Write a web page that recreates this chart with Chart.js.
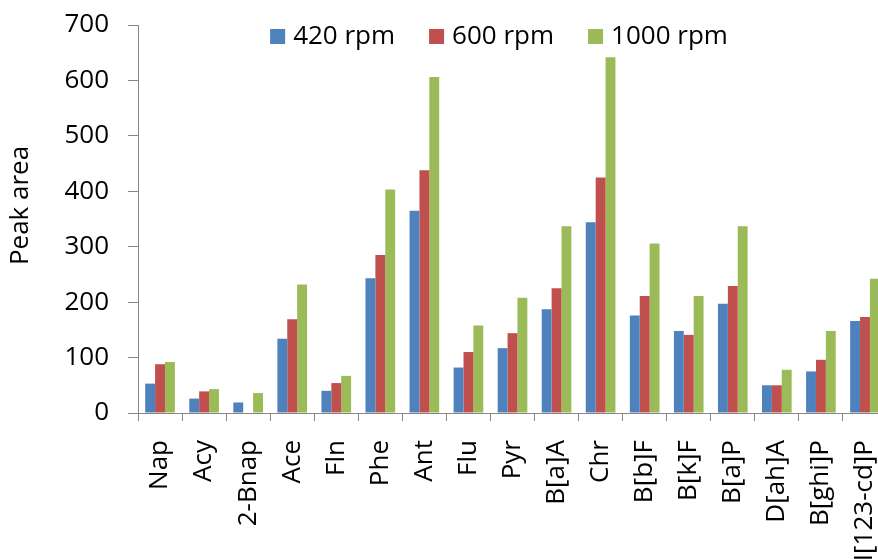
<!DOCTYPE html>
<html>
<head>
<meta charset="utf-8">
<script src="https://cdn.jsdelivr.net/npm/chart.js@4.4.1/dist/chart.umd.min.js"></script>
<style>
  html, body { margin: 0; padding: 0; overflow: hidden; background: #fff; }
  canvas { display: block; }
</style>
</head>
<body>
<canvas id="chart" width="888" height="600"></canvas>
<script>
// PAH compounds on the category axis
const compounds = ['Nap', 'Acy', '2-Bnap', 'Ace', 'Fln', 'Phe', 'Ant', 'Flu', 'Pyr',
  'B[a]A', 'Chr', 'B[b]F', 'B[k]F', 'B[a]P', 'D[ah]A', 'B[ghi]P', 'I[123-cd]P'];

// Peak areas at each stirring speed
const rpm420  = [53, 26, 19, 134, 40, 243, 365, 82, 117, 187, 344, 176, 148, 197, 50, 75, 166];
const rpm600  = [88, 39, null, 169, 54, 285, 438, 110, 144, 225, 425, 211, 141, 229, 50, 96, 173];
const rpm1000 = [92, 43, 36, 232, 67, 403, 606, 158, 208, 337, 642, 306, 211, 337, 78, 148, 242];

const seriesNames = ['420 rpm', '600 rpm', '1000 rpm'];
const seriesColors = ['#4F81BD', '#C0504D', '#9BBB59'];

// Value axis range
const yMin = 0;
const yMax = 700;
const yStep = 100;

const FAMILY = "'Open Sans', sans-serif";
const FONT_SIZE = 26;
const AXIS_GRAY = '#868686';

// Legend drawn as one row floating over the top of the plot
const floatingLegend = {
  id: 'floatingLegend',
  afterDraw(chart) {
    const ctx = chart.ctx;
    const sets = chart.data.datasets;
    const box = 15, gap = 8, spacing = 34;
    ctx.save();
    ctx.font = `${FONT_SIZE}px ${FAMILY}`;
    const widths = sets.map(d => ctx.measureText(d.label).width);
    const total = widths.reduce((a, w) => a + box + gap + w, 0) + spacing * (sets.length - 1);
    let x = 499 - total / 2;
    const baseline = 44;
    ctx.textBaseline = 'alphabetic';
    ctx.textAlign = 'left';
    sets.forEach((d, i) => {
      ctx.fillStyle = d.backgroundColor;
      ctx.fillRect(x, 29, box, box);
      x += box + gap;
      ctx.fillStyle = '#000';
      ctx.fillText(d.label, x, baseline);
      x += widths[i] + spacing;
    });
    ctx.restore();
  }
};

// Keep tick-label overhang from shrinking the plot area
function noOverhang(scale) {
  scale.paddingLeft = 0;
  scale.paddingRight = 0;
  scale.paddingTop = 0;
  scale.paddingBottom = 0;
}

const seriesData = [rpm420, rpm600, rpm1000];

new Chart(document.getElementById('chart'), {
  type: 'bar',
  data: {
    labels: compounds,
    datasets: seriesData.map((values, i) => ({
      label: seriesNames[i],
      data: values,
      backgroundColor: seriesColors[i],
      borderWidth: 0,
      categoryPercentage: 0.673,
      barPercentage: 1
    }))
  },
  options: {
    responsive: false,
    animation: false,
    events: [],
    layout: { padding: { top: 25, right: 1, left: 0, bottom: 0 } },
    plugins: {
      legend: { display: false },
      tooltip: { enabled: false }
    },
    scales: {
      x: {
        ticks: {
          color: '#000',
          font: { family: FAMILY, size: FONT_SIZE },
          minRotation: 90,
          maxRotation: 90,
          autoSkip: false,
          padding: 19
        },
        grid: {
          display: true,
          drawOnChartArea: false,
          drawTicks: true,
          tickLength: 8,
          offset: true,
          color: AXIS_GRAY
        },
        border: { display: true, color: AXIS_GRAY, width: 1 },
        afterFit(scale) { scale.height = 187; noOverhang(scale); }
      },
      y: {
        min: yMin,
        max: yMax,
        ticks: {
          stepSize: yStep,
          color: '#000',
          font: { family: FAMILY, size: FONT_SIZE },
          padding: 19
        },
        grid: {
          display: true,
          drawOnChartArea: false,
          drawTicks: true,
          tickLength: 10,
          color: AXIS_GRAY
        },
        border: { display: true, color: AXIS_GRAY, width: 1 },
        title: {
          display: true,
          // leading spaces lift the rotated title a little above the axis midpoint
          text: '\u00a0\u00a0\u00a0\u00a0Peak area',
          color: '#000',
          font: { family: FAMILY, size: FONT_SIZE },
          padding: { top: 5, bottom: 0 }
        },
        afterFit(scale) { scale.width = 138; noOverhang(scale); }
      }
    }
  },
  plugins: [floatingLegend]
});
</script>
</body>
</html>
